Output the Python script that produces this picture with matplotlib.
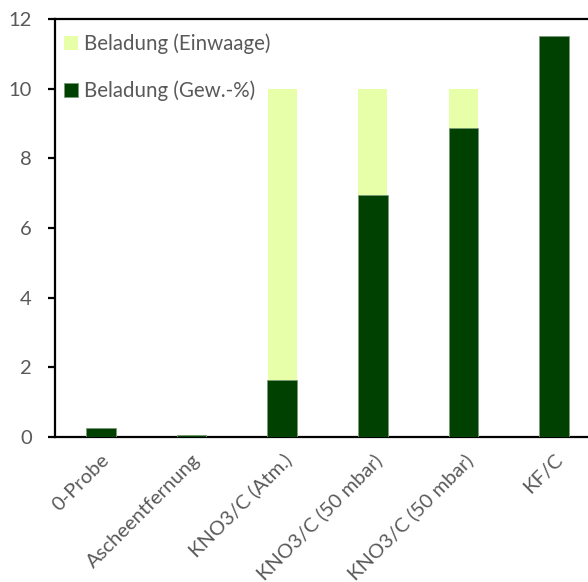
import matplotlib
matplotlib.use("Agg")
import matplotlib.pyplot as plt
import numpy as np

categories = ["0-Probe", "Ascheentfernung", "KNO3/C (Atm.)",
              "KNO3/C (50 mbar)", "KNO3/C (50 mbar)", "KF/C"]
einwaage = [0.0, 0.0, 10.0, 10.0, 10.0, 0.0]
gew_prozent = [0.26, 0.05, 1.64, 6.95, 8.87, 11.5]

light_green = "#E8FFAA"
dark_green = "#004000"
text_gray = "#595959"

plt.rcParams["font.family"] = ["Lato", "DejaVu Sans"]

fig = plt.figure(figsize=(5.88, 5.82), dpi=100)
ax = fig.add_axes([55.5 / 588, 1 - 437 / 582, 544 / 588, 418 / 582])

x = np.arange(len(categories))
ax.bar(x, einwaage, width=0.32, color=light_green, label="Beladung (Einwaage)", zorder=2)
ax.bar(x, gew_prozent, width=0.33, color=dark_green, edgecolor="#7a9a7a",
       linewidth=0.6, label="Beladung (Gew.-%)", zorder=3)

ax.set_xlim(-0.5, len(categories) - 0.5)
ax.set_ylim(0, 12)
ax.set_yticks([0, 2, 4, 6, 8, 10, 12])
ax.set_xticks(x)
ax.set_xticklabels(categories, rotation=45, ha="right", rotation_mode="anchor")

for side in ["left", "bottom", "top", "right"]:
    ax.spines[side].set_linewidth(1.6)
    ax.spines[side].set_color("black")

ax.tick_params(axis="y", direction="out", length=5, width=1.6, colors="black",
               labelcolor=text_gray, labelsize=14.5, pad=12)
ax.tick_params(axis="x", length=0, labelcolor=text_gray, labelsize=14.5, pad=10)

leg = ax.legend(loc="upper left", bbox_to_anchor=(0.0, 0.985), frameon=False,
                fontsize=14.8, handlelength=0.68, handleheight=0.68,
                handletextpad=0.33, labelspacing=1.3, borderaxespad=0.0)
for t in leg.get_texts():
    t.set_color(text_gray)

fig.savefig("out.png", dpi=100)
